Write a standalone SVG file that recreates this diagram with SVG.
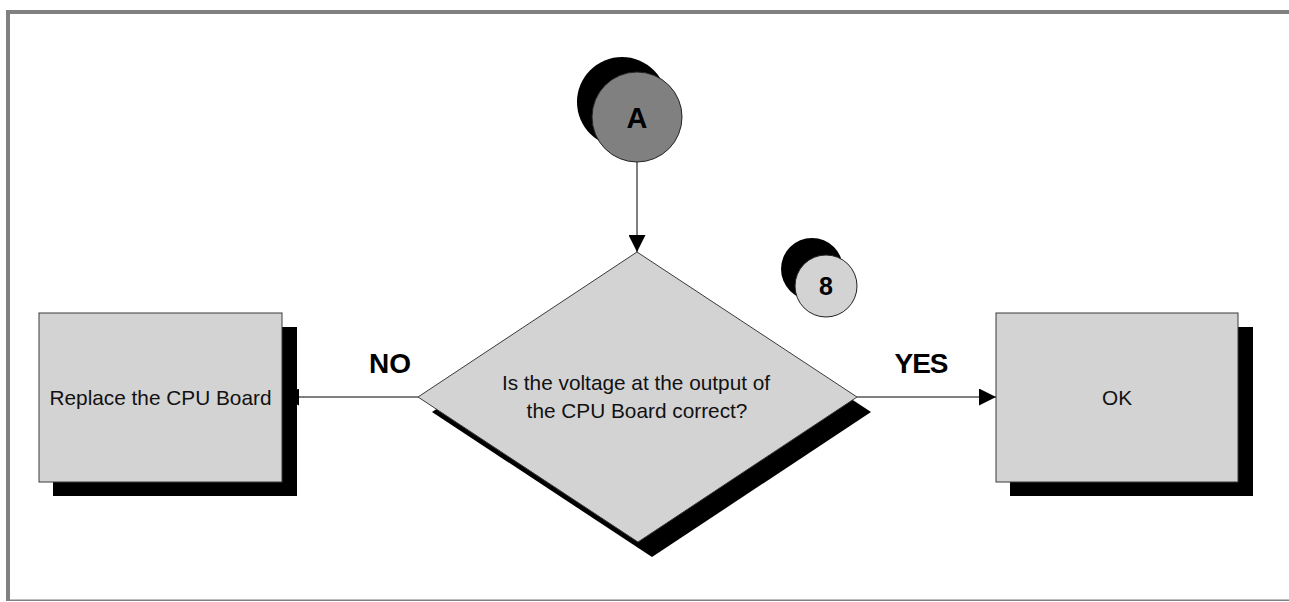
<svg xmlns="http://www.w3.org/2000/svg" width="1289" height="602" viewBox="0 0 1289 602">
<defs>
<style>
.shadow{fill:#000}
.box{fill:#d3d3d3;stroke:#3a3a3a;stroke-width:1}
.lbl{font-family:"Liberation Sans",Arial,sans-serif;font-size:20.8px;fill:#111;text-anchor:middle}
.big{font-family:"Liberation Sans",Arial,sans-serif;font-weight:bold;font-size:28px;fill:#000;text-anchor:middle}
.conn{stroke:#000;stroke-width:1;fill:none}
</style>
<marker id="arr" markerWidth="17" markerHeight="17" viewBox="0 0 17 17" refX="17" refY="8.5" orient="auto" markerUnits="userSpaceOnUse">
<path d="M0,0 L17,8.5 L0,17 Z" fill="#000"/>
</marker>
</defs>
<rect x="0" y="0" width="1289" height="602" fill="#fff"/>
<g id="frame" fill="#808080">
<rect x="6" y="10" width="1283" height="4"/>
<rect x="6" y="10" width="4" height="591"/>
<rect x="6" y="599.5" width="1283" height="1.5"/>
</g>
<g id="connectors">
<line class="conn" x1="637" y1="162" x2="637" y2="252" stroke="#444" marker-end="url(#arr)"/>
<line class="conn" x1="418" y1="397" x2="282" y2="397" marker-end="url(#arr)"/>
<line class="conn" x1="857" y1="397" x2="996" y2="397" marker-end="url(#arr)"/>
</g>
<g id="nodeA">
<circle class="shadow" cx="622" cy="102" r="45"/>
<circle cx="637" cy="117" r="45" fill="#808080" stroke="#222" stroke-width="1"/>
<text class="big" x="637" y="128" style="font-size:29px">A</text>
</g>
<g id="node8">
<circle class="shadow" cx="812" cy="269" r="31"/>
<circle cx="826" cy="286" r="31" fill="#d3d3d3" stroke="#222" stroke-width="1"/>
<text class="big" x="826" y="295" style="font-size:25px">8</text>
</g>
<g id="decision">
<polygon class="shadow" points="651,267 871,412 652,557 432,412"/>
<polygon class="box" points="637,252 857,397 638,542 418,397"/>
<text class="lbl" x="636" y="390">Is the voltage at the output of</text>
<text class="lbl" x="637" y="418">the CPU Board correct?</text>
</g>
<g id="replace">
<rect class="shadow" x="53" y="327" width="244" height="169"/>
<rect class="box" x="39" y="313" width="243" height="169"/>
<text class="lbl" x="160.5" y="405">Replace the CPU Board</text>
</g>
<g id="ok">
<rect class="shadow" x="1010" y="327" width="243" height="169"/>
<rect class="box" x="996" y="313" width="242" height="169"/>
<text class="lbl" x="1117" y="405">OK</text>
</g>
<g id="labels">
<text class="big" x="390" y="373">NO</text>
<text class="big" x="921" y="373" letter-spacing="-1">YES</text>
</g>
</svg>
